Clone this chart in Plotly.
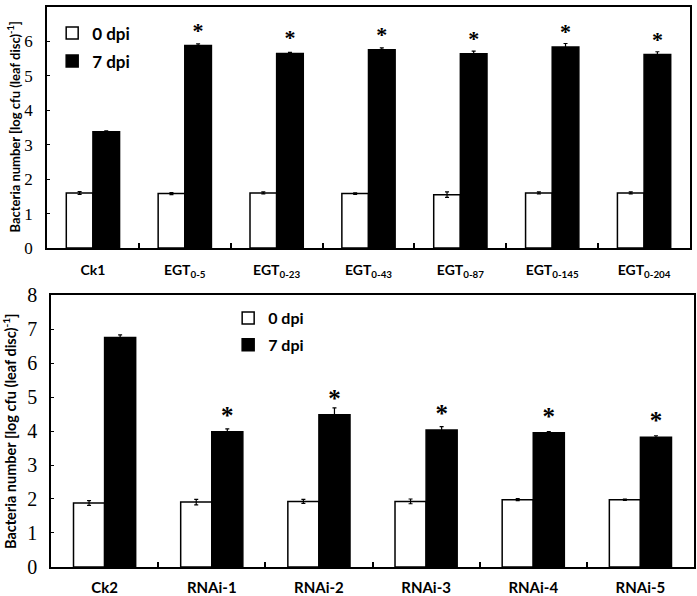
import plotly.graph_objects as go
from plotly.subplots import make_subplots

# ---- top panel data ----
cats_top = ["Ck1", "EGT<sub>0-5</sub>", "EGT<sub>0-23</sub>", "EGT<sub>0-43</sub>",
            "EGT<sub>0-87</sub>", "EGT<sub>0-145</sub>", "EGT<sub>0-204</sub>"]
top_0dpi = [1.60, 1.58, 1.60, 1.58, 1.55, 1.60, 1.60]
top_0dpi_err = [0.04, 0.03, 0.03, 0.02, 0.08, 0.03, 0.03]
top_7dpi = [3.38, 5.88, 5.65, 5.76, 5.64, 5.84, 5.62]
top_7dpi_err = [0.02, 0.05, 0.03, 0.05, 0.08, 0.10, 0.08]
top_sig = ["", "*", "*", "*", "*", "*", "*"]

# ---- bottom panel data ----
cats_bot = ["Ck2", "RNAi-1", "RNAi-2", "RNAi-3", "RNAi-4", "RNAi-5"]
bot_0dpi = [1.88, 1.91, 1.93, 1.93, 1.98, 1.98]
bot_0dpi_err = [0.07, 0.08, 0.06, 0.07, 0.03, 0.02]
bot_7dpi = [6.75, 3.98, 4.48, 4.03, 3.95, 3.82]
bot_7dpi_err = [0.08, 0.08, 0.20, 0.10, 0.03, 0.04]
bot_sig = ["", "*", "*", "*", "*", "*"]

series_names = ["0 dpi", "7 dpi"]
ytitle = "<b>Bacteria number [log cfu (leaf disc)<sup>-1</sup>]</b>"

fig = make_subplots(rows=2, cols=1)

def add_panel(row, cats, v0, e0, v7, e7, sig, legend, starsize):
    fig.add_trace(go.Bar(x=cats, y=v0, name=series_names[0], legend=legend,
                         legendgroup=legend + "a",
                         marker=dict(color="white", line=dict(color="black", width=1.5)),
                         error_y=dict(type="data", array=e0, color="black", thickness=1.2, width=2)),
                  row=row, col=1)
    fig.add_trace(go.Bar(x=cats, y=v7, name=series_names[1], legend=legend,
                         legendgroup=legend + "b",
                         text=sig, textposition="outside", cliponaxis=False,
                         constraintext="none",
                         outsidetextfont=dict(family="Liberation Serif", size=starsize,
                                              color="black", weight="bold"),
                         marker=dict(color="black", line=dict(color="black", width=1.5)),
                         error_y=dict(type="data", array=e7, color="black", thickness=1.2, width=2)),
                  row=row, col=1)

add_panel(1, cats_top, top_0dpi, top_0dpi_err, top_7dpi, top_7dpi_err, top_sig, "legend", 22)
add_panel(2, cats_bot, bot_0dpi, bot_0dpi_err, bot_7dpi, bot_7dpi_err, bot_sig, "legend2", 25)

fig.update_layout(
    width=697, height=596,
    margin=dict(l=47, r=3, t=7, b=29, autoexpand=False),
    plot_bgcolor="white", paper_bgcolor="white",
    barmode="group", bargap=0.42, bargroupgap=0,
    legend=dict(x=0.008, y=0.985, xanchor="left", yanchor="top",
                bgcolor="rgba(0,0,0,0)", traceorder="grouped", tracegroupgap=3,
                font=dict(family="Lato", size=17, color="black", weight="bold")),
    legend2=dict(x=0.28, y=0.475, xanchor="left", yanchor="top",
                 bgcolor="rgba(0,0,0,0)", traceorder="grouped", tracegroupgap=3,
                 font=dict(family="Lato", size=16, color="black", weight="bold")),
)

fig.update_xaxes(showline=True, mirror=True, linecolor="black", linewidth=1.5,
                 ticks="inside", tickson="boundaries", ticklen=5, tickcolor="black",
                 tickwidth=1.5, showgrid=False, automargin=False,
                 tickfont=dict(family="Lato", size=14, color="black", weight="bold"))
fig.update_yaxes(showline=True, mirror=True, linecolor="black", linewidth=1.5,
                 ticks="inside", ticklen=3, tickcolor="black", tickwidth=1.2,
                 showgrid=False, zeroline=False, dtick=1, automargin=False,
                 tickfont=dict(family="Liberation Serif", color="black"))

fig.update_layout(
    xaxis=dict(domain=[0, 0.9938], ticklabelstandoff=8),
    xaxis2=dict(domain=[0.0062, 1], ticklabelstandoff=6,
                tickfont=dict(size=15)),
    yaxis=dict(domain=[0.5696, 1], range=[0, 7], ticklabelstandoff=9,
               tickfont=dict(size=17)),
    yaxis2=dict(domain=[0, 0.4857], range=[0, 8], ticklabelstandoff=8,
                tickfont=dict(size=20)),
)

# y-axis titles as annotations (exact placement)
fig.add_annotation(text=ytitle, xref="paper", yref="y domain", x=0, y=0.5,
                   xanchor="center", yanchor="middle", xshift=-33, textangle=-90,
                   showarrow=False,
                   font=dict(family="Lato", size=13, color="black"))
fig.add_annotation(text=ytitle, xref="paper", yref="y2 domain", x=0, y=0.5,
                   xanchor="center", yanchor="middle", xshift=-38, textangle=-90,
                   showarrow=False,
                   font=dict(family="Lato", size=14.5, color="black"))

fig.write_html("out.html", config={"displayModeBar": False},
               post_script="document.body.style.margin='0px';document.body.style.overflow='hidden';")
